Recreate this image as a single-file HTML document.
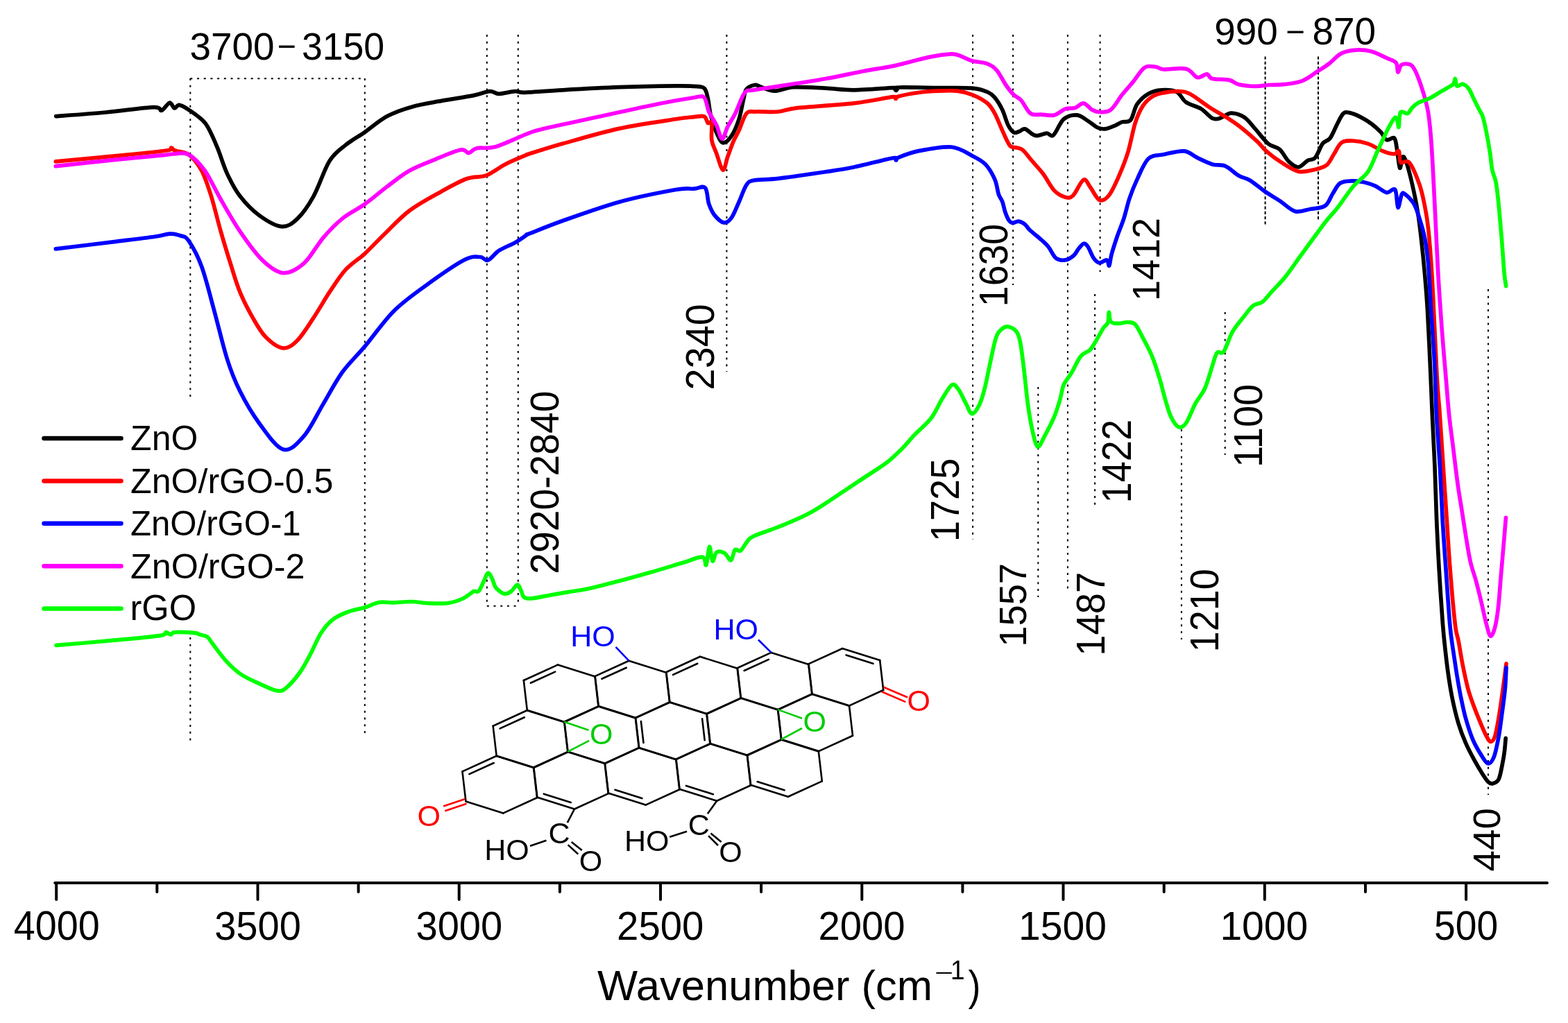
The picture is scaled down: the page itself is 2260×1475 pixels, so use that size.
<!DOCTYPE html><html><head><meta charset="utf-8"><style>html,body{margin:0;padding:0;background:#fff;}svg{display:block;}text{font-family:'Liberation Sans', Arial, sans-serif;}</style></head><body>
<svg width="2260" height="1475" viewBox="0 0 2260 1475">
<rect width="2260" height="1475" fill="#fff"/>
<line x1="274.3" y1="113" x2="274.3" y2="574" stroke="#000" stroke-width="2" stroke-dasharray="3 6.7" fill="none"/>
<line x1="274.3" y1="919" x2="274.3" y2="1068" stroke="#000" stroke-width="2" stroke-dasharray="3 6.7" fill="none"/>
<line x1="525.8" y1="113" x2="525.8" y2="1059" stroke="#000" stroke-width="2" stroke-dasharray="3 6.7" fill="none"/>
<line x1="701.8" y1="50" x2="701.8" y2="874" stroke="#000" stroke-width="2" stroke-dasharray="3 6.7" fill="none"/>
<line x1="746.8" y1="50" x2="746.8" y2="874" stroke="#000" stroke-width="2" stroke-dasharray="3 6.7" fill="none"/>
<line x1="1047.4" y1="50" x2="1047.4" y2="536" stroke="#000" stroke-width="2" stroke-dasharray="3 6.7" fill="none"/>
<line x1="1402.1" y1="50" x2="1402.1" y2="778" stroke="#000" stroke-width="2" stroke-dasharray="3 6.7" fill="none"/>
<line x1="1460.1" y1="50" x2="1460.1" y2="411" stroke="#000" stroke-width="2" stroke-dasharray="3 6.7" fill="none"/>
<line x1="1496.3" y1="558" x2="1496.3" y2="861" stroke="#000" stroke-width="2" stroke-dasharray="3 6.7" fill="none"/>
<line x1="1538.9" y1="50" x2="1538.9" y2="855" stroke="#000" stroke-width="2" stroke-dasharray="3 6.7" fill="none"/>
<line x1="1585.6" y1="50" x2="1585.6" y2="392" stroke="#000" stroke-width="2" stroke-dasharray="3 6.7" fill="none"/>
<line x1="1578.1" y1="424" x2="1578.1" y2="729" stroke="#000" stroke-width="2" stroke-dasharray="3 6.7" fill="none"/>
<line x1="1702.9" y1="619" x2="1702.9" y2="922" stroke="#000" stroke-width="2" stroke-dasharray="3 6.7" fill="none"/>
<line x1="1765.7" y1="450" x2="1765.7" y2="656" stroke="#000" stroke-width="2" stroke-dasharray="3 6.7" fill="none"/>
<line x1="2145.0" y1="417" x2="2145.0" y2="1146" stroke="#000" stroke-width="2" stroke-dasharray="3 6.7" fill="none"/>
<line x1="274.3" y1="113.2" x2="525.8" y2="113.2" stroke="#000" stroke-width="2" stroke-dasharray="3 6.7" fill="none"/>
<line x1="701.8" y1="873.8" x2="746.8" y2="873.8" stroke="#000" stroke-width="2" stroke-dasharray="3 6.7" fill="none"/>
<line x1="1823.6" y1="81.6" x2="1823.6" y2="324" stroke="#000" stroke-width="2" stroke-dasharray="4.2 3" fill="none"/>
<line x1="1900.0" y1="81.6" x2="1900.0" y2="318" stroke="#000" stroke-width="2" stroke-dasharray="4.2 3" fill="none"/>
<path d="M80.8,167.6 C92.7,166.7 128.8,164.2 152.2,162.0 C175.6,159.8 207.9,155.0 221.4,154.6 C234.9,154.2 229.1,160.4 232.9,159.3 C236.7,158.2 241.3,148.8 244.4,148.2 C247.5,147.6 249.1,155.5 251.4,156.0 C253.7,156.5 254.9,151.0 258.3,151.4 C261.8,151.8 266.7,154.8 272.1,158.3 C277.5,161.8 286.0,168.0 290.6,172.2 C295.2,176.4 296.0,176.8 299.8,183.7 C303.6,190.6 309.0,202.5 313.6,213.7 C318.2,224.8 322.1,239.1 327.5,250.6 C332.9,262.1 338.2,272.8 345.9,282.8 C353.6,292.8 363.6,303.2 373.6,310.5 C383.6,317.8 396.6,325.8 405.8,326.6 C415.0,327.4 421.2,322.4 428.9,315.1 C436.6,307.8 444.3,296.6 452.0,282.8 C459.7,269.0 467.3,244.4 475.0,232.1 C482.7,219.8 489.7,216.0 498.1,209.1 C506.6,202.2 515.7,197.5 525.7,190.6 C535.7,183.7 546.5,173.8 558.0,167.6 C569.5,161.4 581.8,157.4 594.9,153.7 C608.0,150.0 621.8,148.1 636.4,145.4 C651.0,142.7 671.0,139.9 682.5,137.6 C694.0,135.3 699.5,132.0 705.6,131.6 C711.8,131.2 713.2,135.3 719.4,135.3 C725.5,135.3 736.2,131.9 742.5,131.6 C748.8,131.3 745.4,133.6 756.9,133.3 C768.4,133.0 788.6,131.1 811.2,129.8 C833.8,128.5 865.4,126.7 892.5,125.7 C919.6,124.7 955.9,124.1 973.8,123.9 C991.7,123.7 993.1,123.9 1000.0,124.4 C1006.9,124.9 1011.5,124.2 1014.9,127.1 C1018.3,130.0 1018.7,135.4 1020.3,142.0 C1021.9,148.6 1022.4,158.3 1024.4,166.4 C1026.4,174.5 1029.6,184.2 1032.5,190.8 C1035.4,197.4 1038.4,204.8 1042.0,205.7 C1045.6,206.6 1050.4,201.8 1054.2,196.2 C1058.0,190.5 1062.1,180.8 1065.1,171.8 C1068.0,162.8 1070.1,149.2 1071.9,142.0 C1073.7,134.8 1073.2,131.8 1075.9,128.5 C1078.6,125.2 1084.5,123.0 1088.1,122.5 C1091.7,122.0 1092.8,124.2 1097.6,125.7 C1102.3,127.2 1108.9,131.2 1116.6,131.2 C1124.3,131.2 1131.5,126.4 1143.7,125.7 C1155.9,125.0 1175.3,126.4 1189.8,127.1 C1204.3,127.8 1214.5,129.9 1230.5,129.8 C1246.5,129.7 1276.2,127.0 1286.0,126.6 C1295.8,126.2 1288.1,126.8 1289.0,127.5 C1289.9,128.2 1290.7,130.5 1291.5,130.5 C1292.3,130.5 1293.1,128.2 1294.0,127.5 C1294.9,126.8 1287.2,126.2 1297.0,126.0 C1306.8,125.8 1335.1,126.4 1352.5,126.6 C1369.9,126.8 1389.5,126.1 1401.3,127.1 C1413.0,128.1 1417.6,130.2 1423.0,132.5 C1428.4,134.8 1430.2,136.4 1433.8,140.7 C1437.4,145.0 1441.5,151.8 1444.7,158.3 C1447.9,164.9 1450.1,174.6 1452.8,180.0 C1455.5,185.4 1458.3,189.2 1461.0,190.8 C1463.7,192.4 1466.4,190.3 1469.1,189.5 C1471.8,188.7 1474.0,185.2 1477.2,185.9 C1480.4,186.6 1485.1,191.9 1488.1,193.5 C1491.1,195.1 1491.8,195.9 1495.3,195.7 C1498.8,195.5 1505.0,192.3 1508.8,192.2 C1512.6,192.1 1514.2,198.3 1518.3,194.9 C1522.4,191.5 1527.5,176.6 1533.2,171.8 C1538.9,167.0 1546.3,165.4 1552.2,165.9 C1558.1,166.4 1563.5,171.6 1568.5,174.6 C1573.5,177.6 1577.9,182.1 1582.0,184.0 C1586.1,185.9 1588.8,186.3 1592.9,185.9 C1597.0,185.5 1602.3,183.0 1606.4,181.3 C1610.5,179.6 1613.5,177.2 1617.3,175.9 C1621.1,174.6 1625.9,177.5 1629.5,173.2 C1633.1,168.9 1634.7,156.5 1639.0,150.2 C1643.3,143.9 1649.3,138.6 1655.2,135.2 C1661.1,131.8 1667.4,130.2 1674.2,129.8 C1681.0,129.4 1690.0,129.6 1695.9,132.5 C1701.8,135.4 1703.6,143.3 1709.5,147.4 C1715.4,151.5 1724.8,153.1 1731.1,156.9 C1737.4,160.8 1742.9,168.2 1747.4,170.5 C1751.9,172.8 1753.8,171.7 1758.3,170.5 C1762.8,169.3 1768.6,163.4 1774.5,163.2 C1780.4,163.0 1787.8,165.4 1793.5,169.1 C1799.2,172.8 1803.1,179.1 1808.8,185.4 C1814.5,191.7 1821.9,202.1 1827.8,207.1 C1833.7,212.1 1839.1,210.9 1844.1,215.2 C1849.1,219.5 1853.1,228.6 1857.6,232.9 C1862.1,237.2 1866.7,241.2 1871.2,241.0 C1875.7,240.8 1880.6,233.8 1884.7,231.5 C1888.8,229.2 1892.0,231.5 1895.6,227.4 C1899.2,223.3 1902.8,211.8 1906.4,207.1 C1910.0,202.4 1913.7,204.0 1917.3,199.0 C1920.9,194.0 1924.9,183.2 1928.1,177.3 C1931.2,171.4 1933.5,166.2 1936.2,163.7 C1938.9,161.2 1940.3,161.6 1944.4,162.4 C1948.5,163.2 1955.3,165.9 1960.7,168.6 C1966.1,171.3 1971.9,174.9 1976.9,178.6 C1981.9,182.3 1986.9,187.0 1990.5,190.8 C1994.1,194.7 1995.4,200.3 1998.6,201.7 C2001.8,203.1 2007.0,196.8 2009.5,199.0 C2012.0,201.2 2012.2,208.0 2013.5,215.2 C2014.8,222.4 2016.2,240.5 2017.6,242.3 C2019.0,244.1 2020.1,227.4 2021.7,226.1 C2023.3,224.8 2024.8,227.6 2027.1,234.2 C2029.4,240.8 2032.8,254.1 2035.5,265.8 C2038.2,277.5 2041.1,291.5 2043.2,304.4 C2045.3,317.3 2046.6,328.0 2048.3,343.0 C2050.0,358.0 2052.0,377.4 2053.5,394.6 C2055.0,411.8 2056.1,424.6 2057.4,446.1 C2058.7,467.6 2060.0,497.8 2061.2,523.4 C2062.4,549.0 2063.3,575.0 2064.4,600.0 C2065.5,625.0 2067.0,648.8 2068.0,673.2 C2069.0,697.6 2069.5,721.9 2070.5,746.3 C2071.5,770.7 2072.6,793.9 2074.1,819.5 C2075.6,845.1 2077.9,879.5 2079.5,900.0 C2081.1,920.5 2082.3,929.7 2083.7,942.4 C2085.1,955.1 2086.3,965.0 2088.0,976.3 C2089.7,987.6 2091.5,998.9 2093.9,1010.2 C2096.3,1021.5 2099.3,1033.9 2102.4,1044.1 C2105.5,1054.3 2108.8,1062.7 2112.5,1071.2 C2116.2,1079.7 2120.4,1087.6 2124.4,1094.9 C2128.4,1102.2 2132.9,1109.9 2136.3,1115.3 C2139.7,1120.7 2142.2,1124.7 2144.7,1127.1 C2147.2,1129.5 2148.9,1130.3 2151.5,1129.7 C2154.1,1129.1 2157.7,1128.1 2160.0,1123.7 C2162.3,1119.3 2163.7,1110.2 2165.1,1103.4 C2166.5,1096.6 2167.7,1089.6 2168.5,1083.1 C2169.3,1076.6 2169.9,1067.5 2170.2,1064.4" fill="none" stroke="#000000" stroke-width="5.7" stroke-linejoin="round" stroke-linecap="round"/>
<path d="M80.3,232.9 C95.0,231.5 141.9,227.3 168.5,224.7 C195.1,222.0 226.9,218.9 240.0,217.0 C253.1,215.1 245.1,213.0 247.1,213.0 C249.1,213.0 247.8,215.3 252.0,217.0 C256.2,218.7 265.7,218.1 272.1,222.9 C278.5,227.7 285.2,236.0 290.6,246.0 C296.0,256.0 299.8,268.2 304.4,282.8 C309.0,297.4 313.6,317.5 318.2,333.6 C322.8,349.8 327.5,365.1 332.1,379.7 C336.7,394.3 340.5,408.1 345.9,421.2 C351.3,434.3 358.1,447.4 364.3,458.1 C370.5,468.9 375.5,478.4 382.8,485.7 C390.1,493.0 400.4,501.1 408.1,501.9 C415.8,502.7 421.6,497.7 428.9,490.4 C436.2,483.1 444.3,469.6 452.0,458.1 C459.7,446.6 467.3,432.7 475.0,421.2 C482.7,409.7 489.7,398.1 498.1,388.9 C506.6,379.7 516.5,374.2 525.7,365.8 C534.9,357.4 542.6,348.6 553.4,338.2 C564.2,327.8 576.5,314.0 590.3,303.6 C604.1,293.2 622.6,283.6 636.4,275.9 C650.2,268.2 662.5,261.3 673.3,257.5 C684.1,253.7 691.8,256.4 701.0,252.9 C710.2,249.4 718.8,241.7 728.6,236.7 C738.4,231.7 754.4,225.3 760.0,222.9 C765.6,220.5 753.8,224.6 762.3,222.0 C770.8,219.4 789.5,213.2 811.2,207.1 C832.9,201.0 865.4,191.3 892.5,185.4 C919.6,179.5 955.9,174.6 973.8,171.8 C991.7,169.0 993.1,169.3 1000.0,168.6 C1006.9,167.9 1011.5,166.4 1014.9,167.8 C1018.3,169.2 1018.5,175.7 1020.3,177.3 C1022.1,178.9 1024.9,173.2 1025.8,177.3 C1026.7,181.4 1024.7,194.5 1025.8,201.7 C1026.9,208.9 1029.8,213.5 1032.5,220.7 C1035.2,227.9 1039.3,244.1 1042.0,245.0 C1044.7,245.9 1046.3,232.9 1048.8,226.1 C1051.3,219.3 1054.2,210.7 1056.9,204.4 C1059.6,198.1 1061.9,194.9 1065.1,188.1 C1068.3,181.3 1071.8,168.2 1075.9,163.7 C1080.0,159.2 1081.8,161.4 1089.5,161.0 C1097.2,160.6 1112.1,161.9 1122.0,161.0 C1131.9,160.1 1131.0,157.6 1149.1,155.6 C1167.2,153.6 1207.5,151.5 1230.5,148.8 C1253.5,146.2 1276.9,140.8 1287.0,139.7 C1297.1,138.6 1289.7,142.6 1291.0,142.5 C1292.3,142.4 1289.3,140.5 1295.0,139.0 C1300.7,137.5 1315.8,134.6 1325.4,133.3 C1335.0,132.0 1343.5,131.5 1352.5,131.2 C1361.5,130.8 1371.5,130.3 1379.6,131.2 C1387.7,132.1 1394.1,133.7 1401.3,136.6 C1408.5,139.5 1417.6,144.3 1423.0,148.8 C1428.4,153.3 1430.2,157.1 1433.8,163.7 C1437.4,170.2 1441.1,180.4 1444.7,188.1 C1448.3,195.8 1451.9,205.6 1455.5,209.8 C1459.1,214.0 1463.2,212.0 1466.4,213.1 C1469.6,214.2 1471.0,213.5 1474.5,216.6 C1478.0,219.7 1482.3,225.8 1487.1,231.5 C1491.9,237.2 1498.0,243.3 1503.4,250.5 C1508.8,257.7 1514.3,269.2 1519.7,274.9 C1525.1,280.5 1531.4,283.3 1535.9,284.4 C1540.4,285.5 1542.5,285.9 1546.8,281.7 C1551.1,277.5 1557.6,261.2 1561.7,259.2 C1565.8,257.2 1567.4,264.6 1571.2,269.5 C1575.0,274.4 1580.2,286.4 1584.7,288.4 C1589.2,290.4 1593.8,287.1 1598.3,281.7 C1602.8,276.3 1607.3,266.1 1611.8,255.9 C1616.3,245.7 1621.3,233.8 1625.4,220.7 C1629.5,207.6 1632.6,188.6 1636.2,177.3 C1639.8,166.0 1643.0,159.2 1647.1,152.9 C1651.2,146.6 1655.7,142.5 1660.7,139.3 C1665.7,136.1 1670.6,135.2 1676.9,133.9 C1683.2,132.6 1692.3,131.5 1698.6,131.7 C1704.9,131.9 1707.2,131.2 1714.9,135.2 C1722.6,139.2 1735.2,149.5 1744.7,155.6 C1754.2,161.7 1764.1,166.8 1771.8,171.8 C1779.5,176.8 1784.0,180.0 1790.8,185.4 C1797.6,190.8 1806.8,199.0 1812.5,204.4 C1818.2,209.8 1819.4,212.9 1825.1,217.9 C1830.8,222.9 1839.1,229.3 1846.8,234.2 C1854.5,239.1 1863.5,245.4 1871.2,247.2 C1878.9,249.0 1886.1,246.5 1892.9,245.0 C1899.7,243.5 1906.8,242.1 1911.8,238.3 C1916.8,234.5 1919.1,227.4 1922.7,222.0 C1926.3,216.6 1929.0,208.9 1933.5,205.7 C1938.0,202.5 1943.5,202.8 1949.8,203.0 C1956.1,203.2 1964.3,204.6 1971.5,207.1 C1978.7,209.6 1986.9,215.4 1993.2,217.9 C1999.5,220.4 2005.7,222.0 2009.5,222.0 C2013.3,222.0 2014.6,215.9 2016.2,217.9 C2017.8,219.9 2016.5,231.5 2019.0,234.2 C2021.5,236.9 2026.6,228.9 2031.1,234.2 C2035.6,239.5 2042.1,255.4 2045.8,265.8 C2049.5,276.2 2051.3,286.0 2053.5,296.7 C2055.7,307.4 2057.0,313.9 2058.7,330.2 C2060.4,346.5 2062.3,371.0 2063.8,394.6 C2065.3,418.2 2066.4,446.1 2067.7,471.9 C2069.0,497.7 2070.2,527.9 2071.5,549.2 C2072.8,570.6 2074.0,579.3 2075.4,600.0 C2076.8,620.7 2078.6,648.8 2080.2,673.2 C2081.8,697.6 2083.5,721.9 2085.1,746.3 C2086.7,770.7 2088.0,793.9 2090.0,819.5 C2092.0,845.1 2095.2,882.4 2097.3,900.0 C2099.4,917.6 2100.6,915.5 2102.4,925.4 C2104.2,935.3 2106.1,948.0 2108.3,959.3 C2110.6,970.6 2113.2,983.3 2115.9,993.2 C2118.6,1003.1 2121.3,1010.1 2124.4,1018.6 C2127.5,1027.1 2131.5,1036.8 2134.6,1044.1 C2137.7,1051.4 2140.7,1058.5 2143.1,1062.7 C2145.5,1066.9 2147.0,1069.8 2149.0,1069.5 C2151.0,1069.2 2153.1,1066.7 2154.9,1061.0 C2156.7,1055.3 2158.3,1045.5 2160.0,1035.6 C2161.7,1025.7 2163.7,1011.6 2165.1,1001.7 C2166.5,991.8 2167.5,983.8 2168.5,976.3 C2169.5,968.8 2170.6,960.0 2171.0,956.8" fill="none" stroke="#ff0000" stroke-width="5.7" stroke-linejoin="round" stroke-linecap="round"/>
<path d="M80.3,358.9 C95.0,357.1 144.8,351.0 168.5,348.1 C192.2,345.2 210.0,343.1 222.7,341.3 C235.3,339.5 238.1,337.4 244.4,337.2 C250.7,337.0 256.1,338.3 260.7,340.0 C265.3,341.7 267.1,340.0 272.1,347.4 C277.1,354.8 284.5,367.4 290.6,384.3 C296.8,401.2 302.9,426.6 309.0,448.9 C315.1,471.2 321.4,498.8 327.5,518.0 C333.6,537.2 338.2,548.7 345.9,564.1 C353.6,579.5 363.2,596.2 373.6,610.2 C384.0,624.2 397.4,644.9 408.1,648.0 C418.9,651.1 428.5,639.6 438.1,628.7 C447.7,617.8 456.6,598.0 465.8,582.6 C475.0,567.2 483.5,550.3 493.5,536.5 C503.5,522.7 513.4,514.2 525.7,499.6 C538.0,485.0 552.6,463.5 567.2,448.9 C581.8,434.3 596.5,424.3 613.4,412.0 C630.3,399.7 655.6,382.0 668.7,375.1 C681.8,368.2 686.0,370.5 691.8,370.5 C697.6,370.5 698.7,376.7 703.3,375.1 C707.9,373.6 712.9,365.4 719.4,361.2 C725.9,357.0 735.7,353.5 742.5,349.7 C749.3,345.9 756.7,340.3 760.0,338.2 C763.3,336.1 753.8,340.5 762.3,337.2 C770.8,333.9 789.5,326.0 811.2,318.3 C832.9,310.6 865.4,298.7 892.5,291.2 C919.6,283.7 955.9,276.7 973.8,273.5 C991.7,270.3 992.9,272.6 1000.0,272.2 C1007.1,271.8 1012.7,267.2 1016.3,270.8 C1019.9,274.4 1019.5,287.3 1021.7,293.9 C1024.0,300.4 1026.2,305.6 1029.8,310.1 C1033.4,314.6 1039.3,320.3 1043.4,321.0 C1047.5,321.7 1050.6,319.2 1054.2,314.2 C1057.8,309.2 1061.5,299.1 1065.1,291.2 C1068.7,283.3 1072.3,271.9 1075.9,266.7 C1079.5,261.5 1079.1,261.6 1086.8,260.0 C1094.5,258.4 1104.8,259.3 1122.0,257.3 C1139.2,255.3 1171.7,250.5 1189.8,247.8 C1207.9,245.1 1214.2,244.3 1230.5,241.0 C1246.8,237.7 1277.3,229.5 1287.5,227.8 C1297.7,226.1 1290.2,231.2 1291.5,231.0 C1292.8,230.8 1289.8,229.1 1295.5,226.8 C1301.2,224.5 1312.7,219.9 1325.4,217.4 C1338.1,214.9 1358.8,210.8 1371.5,212.0 C1384.2,213.2 1393.2,220.5 1401.3,224.7 C1409.4,228.8 1414.9,231.2 1420.3,236.9 C1425.7,242.6 1430.6,251.4 1433.8,258.6 C1437.0,265.8 1437.5,274.6 1439.3,280.0 C1441.1,285.4 1443.2,286.6 1444.8,290.9 C1446.4,295.2 1447.2,301.3 1448.8,305.8 C1450.4,310.3 1452.5,315.4 1454.3,318.0 C1456.1,320.6 1457.5,321.2 1459.7,321.4 C1462.0,321.6 1464.9,318.8 1467.8,319.1 C1470.7,319.4 1474.6,321.3 1477.3,323.4 C1480.0,325.5 1480.0,327.6 1484.1,331.5 C1488.2,335.4 1497.2,342.4 1501.7,346.5 C1506.2,350.6 1507.8,351.7 1511.2,356.0 C1514.6,360.3 1518.0,369.1 1522.1,372.2 C1526.2,375.3 1531.3,375.6 1535.6,374.9 C1539.9,374.2 1544.6,370.9 1547.8,368.2 C1551.0,365.5 1552.2,361.5 1554.6,358.7 C1557.0,355.9 1559.8,351.6 1562.1,351.2 C1564.4,350.8 1565.8,352.5 1568.2,356.0 C1570.6,359.5 1573.6,368.4 1576.3,372.2 C1579.0,376.0 1581.3,378.6 1584.5,379.0 C1587.7,379.4 1592.9,374.2 1595.3,374.9 C1597.7,375.6 1597.6,384.5 1598.7,383.1 C1599.8,381.8 1600.2,373.8 1602.1,366.8 C1604.0,359.8 1607.3,349.6 1610.2,341.0 C1613.1,332.4 1616.7,324.5 1619.7,315.3 C1622.7,306.1 1624.9,295.1 1628.1,285.7 C1631.3,276.2 1634.5,268.1 1639.0,258.6 C1643.5,249.1 1648.9,234.8 1655.2,228.8 C1661.5,222.8 1668.3,224.6 1676.9,222.8 C1685.5,221.0 1698.7,217.1 1706.8,217.9 C1714.9,218.7 1718.9,224.2 1725.7,227.4 C1732.5,230.6 1740.6,234.9 1747.4,236.9 C1754.2,238.9 1760.1,236.9 1766.4,239.6 C1772.7,242.3 1779.5,249.8 1785.4,253.2 C1791.3,256.6 1795.3,256.2 1801.6,260.0 C1807.9,263.8 1816.1,271.2 1823.3,276.2 C1830.5,281.2 1837.8,285.1 1845.0,289.8 C1852.2,294.6 1859.5,302.8 1866.7,304.7 C1873.9,306.6 1881.2,302.9 1888.4,301.5 C1895.6,300.1 1904.7,300.4 1910.1,296.6 C1915.5,292.9 1917.4,284.4 1921.0,279.0 C1924.6,273.6 1927.0,267.0 1931.8,264.0 C1936.6,261.0 1944.1,261.0 1949.8,260.8 C1955.5,260.6 1960.7,261.5 1966.1,262.7 C1971.5,263.9 1976.9,265.6 1982.3,268.1 C1987.7,270.6 1993.8,276.7 1998.6,277.6 C2003.3,278.5 2008.1,269.9 2010.8,273.5 C2013.5,277.1 2013.3,298.2 2014.9,299.3 C2016.5,300.4 2018.6,283.5 2020.3,280.3 C2022.0,277.1 2022.2,277.7 2025.2,280.0 C2028.2,282.3 2034.6,288.3 2038.0,294.1 C2041.4,299.9 2043.2,306.6 2045.8,314.7 C2048.4,322.8 2051.3,331.8 2053.5,343.0 C2055.7,354.2 2057.2,364.5 2058.7,381.7 C2060.2,398.9 2061.0,422.5 2062.5,446.1 C2064.0,469.7 2066.4,497.8 2067.7,523.4 C2069.0,549.0 2069.2,575.0 2070.5,600.0 C2071.8,625.0 2074.0,648.8 2075.4,673.2 C2076.8,697.6 2077.6,721.9 2079.0,746.3 C2080.4,770.7 2082.1,793.9 2083.9,819.5 C2085.7,845.1 2088.0,880.9 2089.7,900.0 C2091.4,919.1 2092.3,922.6 2093.9,933.9 C2095.5,945.2 2097.2,956.5 2099.0,967.8 C2100.8,979.1 2102.7,990.4 2104.9,1001.7 C2107.2,1013.0 2109.5,1024.9 2112.5,1035.6 C2115.5,1046.3 2119.0,1057.3 2122.7,1066.1 C2126.4,1074.8 2130.9,1082.3 2134.6,1088.1 C2138.3,1093.9 2141.6,1100.2 2144.7,1100.8 C2147.8,1101.4 2150.6,1097.8 2153.2,1091.5 C2155.8,1085.2 2158.0,1073.4 2160.0,1062.7 C2162.0,1052.0 2163.5,1038.7 2165.1,1027.1 C2166.7,1015.5 2168.3,1003.9 2169.3,993.2 C2170.3,982.5 2170.7,967.8 2171.0,962.7" fill="none" stroke="#0000ff" stroke-width="5.7" stroke-linejoin="round" stroke-linecap="round"/>
<path d="M80.3,239.6 C95.0,238.0 143.0,232.7 168.5,230.1 C194.0,227.5 219.9,225.2 233.5,223.9 C247.1,222.6 243.4,222.2 249.8,222.0 C256.2,221.8 264.5,218.9 272.1,222.9 C279.7,226.9 287.5,235.2 295.2,246.0 C302.9,256.8 309.8,272.9 318.2,287.5 C326.6,302.1 335.9,319.0 345.9,333.6 C355.9,348.2 367.8,365.1 378.2,375.1 C388.6,385.1 398.1,392.7 408.1,393.5 C418.1,394.3 428.5,388.1 438.1,379.7 C447.7,371.2 456.6,353.6 465.8,342.8 C475.0,332.0 483.5,323.2 493.5,315.1 C503.5,307.0 515.0,302.1 525.7,294.4 C536.5,286.7 547.2,277.1 558.0,269.0 C568.8,260.9 578.8,252.5 590.3,246.0 C601.8,239.5 614.9,234.8 627.2,229.8 C639.5,224.8 656.0,217.5 664.1,216.0 C672.2,214.5 671.8,221.0 675.6,220.6 C679.4,220.2 680.6,215.2 687.1,213.7 C693.6,212.2 702.6,214.9 714.8,211.4 C726.9,207.9 748.5,197.2 760.0,192.9 C771.5,188.6 766.4,189.6 784.0,185.4 C801.6,181.2 838.3,173.7 865.4,167.8 C892.5,161.9 924.3,154.7 946.7,150.2 C969.1,145.7 988.6,142.3 1000.0,140.7 C1011.4,139.1 1011.3,137.3 1014.9,140.7 C1018.5,144.1 1018.8,154.4 1021.7,161.0 C1024.6,167.6 1029.3,173.4 1032.5,180.0 C1035.7,186.6 1038.0,199.9 1040.7,200.3 C1043.4,200.8 1045.6,188.8 1048.8,182.7 C1052.0,176.6 1055.6,171.8 1059.7,163.7 C1063.8,155.6 1068.7,139.6 1073.2,133.9 C1077.7,128.2 1078.7,131.4 1086.8,129.8 C1094.9,128.2 1104.8,127.1 1122.0,124.4 C1139.2,121.7 1169.5,117.1 1189.8,113.5 C1210.1,109.9 1227.3,105.9 1244.0,102.7 C1260.7,99.5 1274.3,98.0 1290.1,94.6 C1305.9,91.2 1325.3,85.2 1338.9,82.4 C1352.5,79.6 1363.8,78.0 1371.5,77.8 C1379.2,77.6 1380.0,79.3 1385.0,81.0 C1390.0,82.7 1395.0,86.0 1401.3,87.8 C1407.6,89.6 1417.1,89.7 1423.0,91.9 C1428.9,94.2 1432.1,96.1 1436.6,101.3 C1441.1,106.5 1446.0,117.1 1450.1,123.0 C1454.2,128.9 1457.4,133.0 1461.0,136.6 C1464.6,140.2 1467.7,140.2 1471.8,144.7 C1475.9,149.2 1480.6,160.3 1485.4,163.7 C1490.2,167.1 1495.0,164.7 1500.7,165.1 C1506.4,165.5 1513.8,167.3 1519.7,165.9 C1525.6,164.5 1530.9,158.6 1535.9,156.9 C1540.9,155.2 1545.2,156.9 1549.5,155.6 C1553.8,154.2 1557.6,148.4 1561.7,148.8 C1565.8,149.2 1570.1,156.2 1573.9,158.3 C1577.7,160.4 1580.2,161.5 1584.7,161.5 C1589.2,161.5 1595.6,162.5 1601.0,158.3 C1606.4,154.2 1611.9,143.4 1617.3,136.6 C1622.7,129.8 1628.1,124.1 1633.5,117.6 C1638.9,111.0 1644.4,100.8 1649.8,97.3 C1655.2,93.8 1661.6,96.0 1666.1,96.5 C1670.6,97.0 1669.7,99.5 1676.9,100.0 C1684.1,100.5 1701.4,97.3 1709.5,99.2 C1717.6,101.1 1720.7,110.3 1725.7,111.6 C1730.7,112.9 1735.7,106.5 1739.3,106.8 C1742.9,107.1 1742.0,112.1 1747.4,113.5 C1752.8,114.9 1765.5,114.0 1771.8,115.4 C1778.1,116.8 1779.1,120.2 1785.4,121.7 C1791.7,123.2 1802.6,124.3 1809.8,124.4 C1817.0,124.5 1822.0,123.0 1828.8,122.5 C1835.6,122.0 1842.4,122.7 1850.5,121.7 C1858.6,120.7 1869.5,119.5 1877.6,116.3 C1885.7,113.1 1893.0,106.8 1899.3,102.7 C1905.6,98.6 1909.8,96.2 1915.5,91.9 C1921.2,87.6 1926.9,80.2 1933.5,76.9 C1940.1,73.6 1948.0,72.5 1955.2,72.1 C1962.4,71.6 1969.7,72.3 1976.9,74.2 C1984.1,76.1 1992.7,81.0 1998.6,83.7 C2004.5,86.4 2009.5,87.1 2012.2,90.5 C2014.9,93.9 2013.6,103.6 2014.9,104.1 C2016.2,104.5 2017.1,94.9 2020.3,93.2 C2023.5,91.5 2030.3,91.5 2033.9,93.8 C2037.5,96.1 2039.1,100.1 2042.0,106.8 C2044.9,113.5 2048.8,124.9 2051.5,133.9 C2054.2,142.9 2056.5,150.6 2058.3,161.0 C2060.1,171.4 2061.2,183.0 2062.3,196.2 C2063.4,209.4 2064.0,219.8 2065.1,240.0 C2066.2,260.2 2067.7,291.5 2069.0,317.3 C2070.3,343.1 2071.3,368.8 2072.8,394.6 C2074.3,420.4 2076.1,446.1 2078.0,471.9 C2079.9,497.7 2082.6,527.9 2084.4,549.2 C2086.2,570.6 2087.1,583.4 2088.8,600.0 C2090.6,616.6 2092.9,632.5 2094.9,648.8 C2096.9,665.1 2099.0,683.0 2101.0,697.6 C2103.0,712.2 2105.1,723.6 2107.1,736.6 C2109.1,749.6 2111.2,763.4 2113.2,775.6 C2115.2,787.8 2116.9,799.2 2119.3,809.8 C2121.7,820.4 2125.2,829.2 2127.8,839.0 C2130.4,848.8 2132.7,858.1 2135.1,868.3 C2137.5,878.5 2140.2,891.9 2142.4,900.0 C2144.6,908.1 2146.3,916.3 2148.3,917.1 C2150.3,917.9 2152.7,911.8 2154.6,904.9 C2156.5,898.0 2158.1,887.8 2159.5,875.6 C2160.9,863.4 2162.0,845.9 2163.2,831.7 C2164.4,817.5 2165.6,804.4 2166.8,790.2 C2168.0,776.0 2169.9,753.6 2170.5,746.3" fill="none" stroke="#ff00ff" stroke-width="5.7" stroke-linejoin="round" stroke-linecap="round"/>
<path d="M81.0,930.4 C89.7,929.7 116.2,927.5 133.0,926.0 C149.8,924.5 165.1,923.2 181.7,921.6 C198.3,920.0 223.0,917.8 232.6,916.1 C242.2,914.4 237.0,911.8 239.2,911.6 C241.4,911.4 243.6,915.0 245.8,915.0 C248.0,915.0 246.6,912.0 252.5,911.6 C258.4,911.2 275.3,912.1 281.2,912.7 C287.1,913.3 284.9,914.1 287.9,915.0 C290.8,915.9 295.9,916.3 298.9,918.3 C301.8,920.3 301.2,921.4 305.6,927.1 C310.0,932.8 318.5,945.0 325.5,952.6 C332.5,960.2 339.5,967.0 347.6,972.5 C355.7,978.0 365.7,981.9 374.2,985.8 C382.7,989.7 392.2,994.6 398.5,995.7 C404.8,996.8 406.3,996.6 411.8,992.4 C417.3,988.2 425.8,978.4 431.7,970.3 C437.6,962.2 442.0,953.3 447.2,943.7 C452.4,934.1 457.2,921.2 462.7,912.7 C468.2,904.2 473.8,897.9 480.4,892.8 C487.0,887.6 495.1,884.6 502.5,881.8 C509.9,879.0 517.2,878.4 524.6,876.2 C532.0,874.0 539.7,869.7 546.7,868.5 C553.7,867.3 558.8,869.1 566.5,868.9 C574.2,868.7 584.2,867.3 593.1,867.5 C602.0,867.7 610.8,869.6 619.6,869.9 C628.5,870.2 638.5,870.6 646.2,869.5 C654.0,868.4 660.6,865.9 666.1,863.5 C671.6,861.1 676.5,856.8 679.4,854.9 C682.3,853.0 681.6,852.7 683.4,852.3 C685.2,851.9 687.8,854.4 690.0,852.3 C692.2,850.2 694.6,843.7 696.6,839.6 C698.6,835.5 700.5,829.8 702.0,827.7 C703.5,825.6 704.0,825.7 705.3,827.0 C706.6,828.3 708.5,832.5 709.9,835.7 C711.3,838.9 712.3,843.6 713.9,846.3 C715.5,848.9 717.0,850.0 719.2,851.6 C721.4,853.2 724.3,856.0 727.2,856.2 C730.1,856.4 733.4,855.1 736.5,852.9 C739.6,850.7 743.4,843.2 745.8,843.0 C748.2,842.8 749.5,848.6 751.1,851.6 C752.7,854.6 752.7,859.0 755.1,860.9 C757.5,862.8 759.5,863.3 765.7,862.9 C771.9,862.5 783.4,859.8 792.2,858.2 C801.1,856.7 809.8,855.1 818.8,853.6 C827.8,852.1 833.9,851.9 846.1,849.3 C858.3,846.7 876.8,841.8 892.2,837.8 C907.6,833.8 922.9,829.5 938.3,825.1 C953.7,820.7 972.1,814.9 984.4,811.3 C996.7,807.6 1006.5,802.6 1012.1,803.2 C1017.7,803.8 1016.1,817.2 1017.8,814.7 C1019.5,812.2 1021.0,789.2 1022.5,788.2 C1024.0,787.2 1025.4,807.6 1027.1,809.0 C1028.8,810.4 1029.9,798.2 1032.8,796.3 C1035.7,794.4 1040.8,795.5 1044.3,797.4 C1047.8,799.3 1051.1,808.6 1053.6,807.8 C1056.1,807.0 1057.0,795.1 1059.3,792.8 C1061.6,790.5 1064.5,795.9 1067.4,794.0 C1070.3,792.1 1073.5,784.8 1076.6,781.3 C1079.7,777.8 1078.1,776.9 1085.8,773.2 C1093.5,769.6 1108.9,765.1 1122.7,759.4 C1136.5,753.6 1152.8,747.5 1168.8,738.7 C1184.8,729.9 1205.4,715.2 1218.6,706.6 C1231.8,698.0 1238.0,693.6 1248.0,687.0 C1258.0,680.4 1269.6,673.4 1278.3,666.7 C1287.0,660.0 1293.3,653.6 1300.0,647.0 C1306.7,640.4 1311.2,634.2 1318.2,626.9 C1325.2,619.6 1335.4,611.6 1342.0,603.0 C1348.6,594.4 1353.0,583.1 1358.0,575.1 C1363.0,567.1 1368.0,557.4 1371.9,555.1 C1375.8,552.8 1377.9,556.9 1381.3,561.3 C1384.7,565.7 1388.9,575.8 1392.2,581.7 C1395.5,587.6 1397.7,596.2 1400.9,596.6 C1404.1,597.0 1408.1,590.5 1411.2,584.4 C1414.3,578.3 1416.6,570.4 1419.3,560.0 C1422.0,549.6 1424.7,534.2 1427.4,522.0 C1430.1,509.8 1432.9,494.7 1435.6,486.8 C1438.3,478.9 1440.8,477.2 1443.7,474.6 C1446.6,472.0 1449.6,470.3 1453.2,471.0 C1456.8,471.7 1462.5,474.6 1465.4,478.6 C1468.3,482.6 1469.0,485.4 1470.8,494.9 C1472.6,504.4 1474.4,520.7 1476.2,535.6 C1478.0,550.5 1479.7,570.0 1481.7,584.4 C1483.7,598.8 1486.1,612.4 1488.4,622.3 C1490.8,632.2 1492.8,643.1 1495.8,644.0 C1498.8,644.9 1502.1,635.0 1506.1,627.8 C1510.1,620.6 1516.0,609.3 1519.6,600.7 C1523.2,592.1 1525.5,583.9 1527.8,576.2 C1530.1,568.5 1530.5,560.9 1533.2,554.6 C1535.9,548.3 1539.9,545.1 1544.0,538.3 C1548.1,531.5 1553.1,519.5 1557.6,513.9 C1562.1,508.2 1567.5,508.0 1571.1,504.4 C1574.7,500.8 1576.1,497.4 1579.3,492.2 C1582.5,487.0 1587.2,477.7 1590.1,473.2 C1593.0,468.7 1595.5,468.9 1596.9,465.1 C1598.3,461.3 1597.6,450.4 1598.3,450.2 C1599.0,450.0 1598.8,461.0 1601.0,463.7 C1603.2,466.4 1607.7,466.3 1611.8,466.4 C1615.9,466.5 1621.3,464.3 1625.4,464.5 C1629.5,464.7 1632.6,464.1 1636.2,467.8 C1639.8,471.5 1643.0,479.1 1647.1,486.8 C1651.2,494.5 1656.5,504.0 1660.6,513.9 C1664.7,523.8 1668.3,536.0 1671.5,546.4 C1674.7,556.8 1676.9,567.2 1679.6,576.2 C1682.3,585.2 1684.5,594.1 1687.7,600.7 C1690.9,607.3 1695.0,614.0 1698.6,615.6 C1702.2,617.2 1705.3,615.8 1709.4,610.1 C1713.5,604.5 1718.5,590.1 1723.0,581.7 C1727.5,573.4 1732.5,569.0 1736.6,560.0 C1740.7,551.0 1744.5,536.0 1747.4,527.4 C1750.3,518.8 1751.5,511.9 1754.2,508.5 C1756.9,505.1 1760.0,512.1 1763.7,507.1 C1767.4,502.1 1771.5,487.0 1776.3,478.6 C1781.1,470.2 1787.5,463.2 1792.5,456.9 C1797.5,450.6 1801.6,444.3 1806.1,440.7 C1810.6,437.1 1815.2,438.6 1819.7,435.2 C1824.2,431.8 1827.8,426.2 1833.2,420.3 C1838.6,414.4 1845.4,408.0 1852.2,399.6 C1859.0,391.2 1866.7,379.7 1873.9,369.8 C1881.1,359.9 1889.3,348.6 1895.6,340.0 C1901.9,331.4 1906.4,325.1 1911.8,318.3 C1917.2,311.5 1921.8,307.4 1928.1,299.3 C1934.4,291.2 1942.6,278.1 1949.8,269.5 C1957.0,260.9 1965.7,256.1 1971.5,247.8 C1977.3,239.5 1980.8,227.9 1984.7,219.5 C1988.6,211.1 1992.0,203.6 1994.9,197.5 C1997.8,191.4 1999.7,187.2 2002.0,183.0 C2004.3,178.8 2006.8,174.2 2008.5,172.0 C2010.2,169.8 2010.9,168.8 2011.9,169.5 C2012.9,170.2 2013.8,173.8 2014.5,176.0 C2015.2,178.2 2015.4,185.3 2016.1,183.0 C2016.8,180.7 2016.5,165.1 2018.6,161.9 C2020.7,158.7 2026.0,164.7 2028.8,163.6 C2031.6,162.5 2033.0,157.6 2035.6,155.1 C2038.1,152.6 2039.9,150.6 2044.1,148.3 C2048.3,146.0 2055.3,144.3 2061.0,141.5 C2066.7,138.7 2073.2,134.2 2078.0,131.4 C2082.8,128.6 2087.0,126.3 2089.8,124.6 C2092.6,122.9 2093.7,122.8 2095.0,121.0 C2096.3,119.2 2096.7,113.1 2097.5,113.6 C2098.3,114.1 2098.2,122.7 2100.0,124.0 C2101.8,125.3 2105.7,120.5 2108.5,121.2 C2111.3,121.9 2114.5,124.6 2117.0,128.0 C2119.5,131.4 2121.2,136.4 2123.7,141.5 C2126.2,146.6 2129.9,154.0 2132.2,158.5 C2134.5,163.0 2135.6,163.2 2137.3,168.6 C2139.0,174.0 2140.7,182.2 2142.4,190.7 C2144.1,199.2 2146.1,210.5 2147.5,219.5 C2148.9,228.5 2149.4,237.8 2150.8,244.9 C2152.2,252.0 2154.5,254.8 2155.9,261.9 C2157.3,269.0 2157.9,273.8 2159.3,287.3 C2160.7,300.8 2162.8,325.1 2164.3,343.0 C2165.8,360.9 2167.1,383.0 2168.2,394.6 C2169.3,406.2 2170.3,409.6 2170.7,412.6" fill="none" stroke="#00ff00" stroke-width="5.7" stroke-linejoin="round" stroke-linecap="round"/>
<line x1="79.2" y1="1273" x2="2230" y2="1273" stroke="#000" stroke-width="4" stroke-linecap="round"/>
<line x1="81.2" y1="1273" x2="81.2" y2="1297" stroke="#000" stroke-width="4" stroke-linecap="round"/>
<line x1="226.3" y1="1273" x2="226.3" y2="1286" stroke="#000" stroke-width="4" stroke-linecap="round"/>
<line x1="371.5" y1="1273" x2="371.5" y2="1297" stroke="#000" stroke-width="4" stroke-linecap="round"/>
<line x1="516.6" y1="1273" x2="516.6" y2="1286" stroke="#000" stroke-width="4" stroke-linecap="round"/>
<line x1="661.7" y1="1273" x2="661.7" y2="1297" stroke="#000" stroke-width="4" stroke-linecap="round"/>
<line x1="806.9" y1="1273" x2="806.9" y2="1286" stroke="#000" stroke-width="4" stroke-linecap="round"/>
<line x1="952.0" y1="1273" x2="952.0" y2="1297" stroke="#000" stroke-width="4" stroke-linecap="round"/>
<line x1="1097.1" y1="1273" x2="1097.1" y2="1286" stroke="#000" stroke-width="4" stroke-linecap="round"/>
<line x1="1242.3" y1="1273" x2="1242.3" y2="1297" stroke="#000" stroke-width="4" stroke-linecap="round"/>
<line x1="1387.4" y1="1273" x2="1387.4" y2="1286" stroke="#000" stroke-width="4" stroke-linecap="round"/>
<line x1="1532.5" y1="1273" x2="1532.5" y2="1297" stroke="#000" stroke-width="4" stroke-linecap="round"/>
<line x1="1677.7" y1="1273" x2="1677.7" y2="1286" stroke="#000" stroke-width="4" stroke-linecap="round"/>
<line x1="1822.8" y1="1273" x2="1822.8" y2="1297" stroke="#000" stroke-width="4" stroke-linecap="round"/>
<line x1="1968.0" y1="1273" x2="1968.0" y2="1286" stroke="#000" stroke-width="4" stroke-linecap="round"/>
<line x1="2113.1" y1="1273" x2="2113.1" y2="1297" stroke="#000" stroke-width="4" stroke-linecap="round"/>
<line x1="63.5" y1="632.1" x2="174.5" y2="632.1" stroke="#000000" stroke-width="6.5" stroke-linecap="round"/>
<text transform="translate(188.1,649.2) scale(1,1.011)" font-size="49.98">ZnO</text>
<line x1="63.5" y1="693.5" x2="174.5" y2="693.5" stroke="#ff0000" stroke-width="6.5" stroke-linecap="round"/>
<text transform="translate(188.1,710.6) scale(1,0.992)" font-size="50.09">ZnO/rGO-0.5</text>
<line x1="63.5" y1="754.8" x2="174.5" y2="754.8" stroke="#0000ff" stroke-width="6.5" stroke-linecap="round"/>
<text transform="translate(188.0,771.8) scale(1,1.008)" font-size="49.15">ZnO/rGO-1</text>
<line x1="63.5" y1="816.2" x2="174.5" y2="816.2" stroke="#ff00ff" stroke-width="6.5" stroke-linecap="round"/>
<text transform="translate(188.1,833.6) scale(1,1.000)" font-size="50.29">ZnO/rGO-2</text>
<line x1="63.5" y1="877.5" x2="174.5" y2="877.5" stroke="#00ff00" stroke-width="6.5" stroke-linecap="round"/>
<text transform="translate(187.4,894.3) scale(1,1.025)" font-size="50.67">rGO</text>
<text transform="translate(273.5,85.9) scale(1,1.013)" font-size="54.90">3700</text>
<text transform="translate(434.9,85.9) scale(1,1.037)" font-size="53.64">3150</text>
<text transform="translate(1750.2,64.2) scale(1,0.977)" font-size="54.90">990</text>
<text transform="translate(1891.4,64.2) scale(1,1.010)" font-size="54.99">870</text>
<text transform="translate(19.8,1355.3) scale(1,1.048)" font-size="55.65">4000</text>
<text transform="translate(309.2,1355.3) scale(1,1.040)" font-size="56.02">3500</text>
<text transform="translate(599.5,1355.3) scale(1,1.040)" font-size="56.02">3000</text>
<text transform="translate(889.1,1355.1) scale(1,1.033)" font-size="56.33">2500</text>
<text transform="translate(1179.4,1355.1) scale(1,1.033)" font-size="56.33">2000</text>
<text transform="translate(1468.1,1355.1) scale(1,1.020)" font-size="57.03">1500</text>
<text transform="translate(1758.4,1355.1) scale(1,1.020)" font-size="57.03">1000</text>
<text transform="translate(2067.1,1355.3) scale(1,1.056)" font-size="55.22">500</text>
<text transform="translate(399.9,82.5) scale(1,1.030)" font-size="46.32">&#8722;</text>
<text transform="translate(1853.5,61.6) scale(1,1.000)" font-size="47.35">&#8722;</text>
<text transform="translate(861.0,1442.2) scale(1,0.998)" font-size="61.53">Wavenumber (cm</text>
<text transform="translate(1347.5,1413.2) scale(1,0.667)" font-size="45.91">&#8722;</text>
<text transform="translate(1370.1,1412.0) scale(1,1.024)" font-size="37.00">1</text>
<text transform="translate(1395.6,1442.2) scale(1,1.135)" font-size="54.11">)</text>
<text transform="translate(804.5,827.8) rotate(-90) scale(1,1.051)" font-size="55.30">2920-2840</text>
<text transform="translate(1029.4,562.4) rotate(-90) scale(1,1.035)" font-size="55.86">2340</text>
<text transform="translate(1452.4,442.2) rotate(-90) scale(1,1.053)" font-size="53.66">1630</text>
<text transform="translate(1671.3,434.0) rotate(-90) scale(1,1.045)" font-size="54.01">1412</text>
<text transform="translate(1382.2,781.0) rotate(-90) scale(1,1.063)" font-size="54.05">1725</text>
<text transform="translate(1629.9,725.5) rotate(-90) scale(1,1.077)" font-size="54.30">1422</text>
<text transform="translate(1818.6,674.1) rotate(-90) scale(1,1.013)" font-size="55.95">1100</text>
<text transform="translate(1478.5,932.7) rotate(-90) scale(1,1.037)" font-size="54.30">1557</text>
<text transform="translate(1592.1,945.7) rotate(-90) scale(1,1.044)" font-size="54.30">1487</text>
<text transform="translate(1755.9,940.2) rotate(-90) scale(1,1.063)" font-size="53.99">1210</text>
<text transform="translate(2162.2,1256.5) rotate(-90) scale(1,1.008)" font-size="54.77">440</text>
<line x1="803.8" y1="958.6" x2="857.8" y2="975.6" stroke="#000" stroke-width="2.6" stroke-linecap="round"/>
<line x1="857.8" y1="975.6" x2="862.8" y2="1018.6" stroke="#000" stroke-width="2.6" stroke-linecap="round"/>
<line x1="862.8" y1="1018.6" x2="813.8" y2="1041.0" stroke="#000" stroke-width="2.6" stroke-linecap="round"/>
<line x1="813.8" y1="1041.0" x2="759.8" y2="1024.0" stroke="#000" stroke-width="2.6" stroke-linecap="round"/>
<line x1="759.8" y1="1024.0" x2="754.8" y2="981.0" stroke="#000" stroke-width="2.6" stroke-linecap="round"/>
<line x1="754.8" y1="981.0" x2="803.8" y2="958.6" stroke="#000" stroke-width="2.6" stroke-linecap="round"/>
<line x1="906.4" y1="952.7" x2="960.4" y2="969.7" stroke="#000" stroke-width="2.6" stroke-linecap="round"/>
<line x1="960.4" y1="969.7" x2="965.4" y2="1012.7" stroke="#000" stroke-width="2.6" stroke-linecap="round"/>
<line x1="965.4" y1="1012.7" x2="916.4" y2="1035.1" stroke="#000" stroke-width="2.6" stroke-linecap="round"/>
<line x1="916.4" y1="1035.1" x2="862.4" y2="1018.1" stroke="#000" stroke-width="2.6" stroke-linecap="round"/>
<line x1="862.4" y1="1018.1" x2="857.4" y2="975.1" stroke="#000" stroke-width="2.6" stroke-linecap="round"/>
<line x1="857.4" y1="975.1" x2="906.4" y2="952.7" stroke="#000" stroke-width="2.6" stroke-linecap="round"/>
<line x1="1009.0" y1="946.8" x2="1063.0" y2="963.8" stroke="#000" stroke-width="2.6" stroke-linecap="round"/>
<line x1="1063.0" y1="963.8" x2="1068.0" y2="1006.8" stroke="#000" stroke-width="2.6" stroke-linecap="round"/>
<line x1="1068.0" y1="1006.8" x2="1019.0" y2="1029.2" stroke="#000" stroke-width="2.6" stroke-linecap="round"/>
<line x1="1019.0" y1="1029.2" x2="965.0" y2="1012.2" stroke="#000" stroke-width="2.6" stroke-linecap="round"/>
<line x1="965.0" y1="1012.2" x2="960.0" y2="969.2" stroke="#000" stroke-width="2.6" stroke-linecap="round"/>
<line x1="960.0" y1="969.2" x2="1009.0" y2="946.8" stroke="#000" stroke-width="2.6" stroke-linecap="round"/>
<line x1="1111.6" y1="940.9" x2="1165.6" y2="957.9" stroke="#000" stroke-width="2.6" stroke-linecap="round"/>
<line x1="1165.6" y1="957.9" x2="1170.6" y2="1000.9" stroke="#000" stroke-width="2.6" stroke-linecap="round"/>
<line x1="1170.6" y1="1000.9" x2="1121.6" y2="1023.3" stroke="#000" stroke-width="2.6" stroke-linecap="round"/>
<line x1="1121.6" y1="1023.3" x2="1067.6" y2="1006.3" stroke="#000" stroke-width="2.6" stroke-linecap="round"/>
<line x1="1067.6" y1="1006.3" x2="1062.6" y2="963.3" stroke="#000" stroke-width="2.6" stroke-linecap="round"/>
<line x1="1062.6" y1="963.3" x2="1111.6" y2="940.9" stroke="#000" stroke-width="2.6" stroke-linecap="round"/>
<line x1="1214.2" y1="935.0" x2="1268.2" y2="952.0" stroke="#000" stroke-width="2.6" stroke-linecap="round"/>
<line x1="1268.2" y1="952.0" x2="1273.2" y2="995.0" stroke="#000" stroke-width="2.6" stroke-linecap="round"/>
<line x1="1273.2" y1="995.0" x2="1224.2" y2="1017.4" stroke="#000" stroke-width="2.6" stroke-linecap="round"/>
<line x1="1224.2" y1="1017.4" x2="1170.2" y2="1000.4" stroke="#000" stroke-width="2.6" stroke-linecap="round"/>
<line x1="1170.2" y1="1000.4" x2="1165.2" y2="957.4" stroke="#000" stroke-width="2.6" stroke-linecap="round"/>
<line x1="1165.2" y1="957.4" x2="1214.2" y2="935.0" stroke="#000" stroke-width="2.6" stroke-linecap="round"/>
<line x1="759.6" y1="1024.3" x2="813.6" y2="1041.3" stroke="#000" stroke-width="2.6" stroke-linecap="round"/>
<line x1="813.6" y1="1041.3" x2="818.6" y2="1084.3" stroke="#000" stroke-width="2.6" stroke-linecap="round"/>
<line x1="818.6" y1="1084.3" x2="769.6" y2="1106.7" stroke="#000" stroke-width="2.6" stroke-linecap="round"/>
<line x1="769.6" y1="1106.7" x2="715.6" y2="1089.7" stroke="#000" stroke-width="2.6" stroke-linecap="round"/>
<line x1="715.6" y1="1089.7" x2="710.6" y2="1046.7" stroke="#000" stroke-width="2.6" stroke-linecap="round"/>
<line x1="710.6" y1="1046.7" x2="759.6" y2="1024.3" stroke="#000" stroke-width="2.6" stroke-linecap="round"/>
<line x1="862.2" y1="1018.4" x2="916.2" y2="1035.4" stroke="#000" stroke-width="2.6" stroke-linecap="round"/>
<line x1="916.2" y1="1035.4" x2="921.2" y2="1078.4" stroke="#000" stroke-width="2.6" stroke-linecap="round"/>
<line x1="921.2" y1="1078.4" x2="872.2" y2="1100.8" stroke="#000" stroke-width="2.6" stroke-linecap="round"/>
<line x1="872.2" y1="1100.8" x2="818.2" y2="1083.8" stroke="#000" stroke-width="2.6" stroke-linecap="round"/>
<line x1="818.2" y1="1083.8" x2="813.2" y2="1040.8" stroke="#000" stroke-width="2.6" stroke-linecap="round"/>
<line x1="813.2" y1="1040.8" x2="862.2" y2="1018.4" stroke="#000" stroke-width="2.6" stroke-linecap="round"/>
<line x1="964.8" y1="1012.5" x2="1018.8" y2="1029.5" stroke="#000" stroke-width="2.6" stroke-linecap="round"/>
<line x1="1018.8" y1="1029.5" x2="1023.8" y2="1072.5" stroke="#000" stroke-width="2.6" stroke-linecap="round"/>
<line x1="1023.8" y1="1072.5" x2="974.8" y2="1094.9" stroke="#000" stroke-width="2.6" stroke-linecap="round"/>
<line x1="974.8" y1="1094.9" x2="920.8" y2="1077.9" stroke="#000" stroke-width="2.6" stroke-linecap="round"/>
<line x1="920.8" y1="1077.9" x2="915.8" y2="1034.9" stroke="#000" stroke-width="2.6" stroke-linecap="round"/>
<line x1="915.8" y1="1034.9" x2="964.8" y2="1012.5" stroke="#000" stroke-width="2.6" stroke-linecap="round"/>
<line x1="1067.4" y1="1006.6" x2="1121.4" y2="1023.6" stroke="#000" stroke-width="2.6" stroke-linecap="round"/>
<line x1="1121.4" y1="1023.6" x2="1126.4" y2="1066.6" stroke="#000" stroke-width="2.6" stroke-linecap="round"/>
<line x1="1126.4" y1="1066.6" x2="1077.4" y2="1089.0" stroke="#000" stroke-width="2.6" stroke-linecap="round"/>
<line x1="1077.4" y1="1089.0" x2="1023.4" y2="1072.0" stroke="#000" stroke-width="2.6" stroke-linecap="round"/>
<line x1="1023.4" y1="1072.0" x2="1018.4" y2="1029.0" stroke="#000" stroke-width="2.6" stroke-linecap="round"/>
<line x1="1018.4" y1="1029.0" x2="1067.4" y2="1006.6" stroke="#000" stroke-width="2.6" stroke-linecap="round"/>
<line x1="1170.0" y1="1000.7" x2="1224.0" y2="1017.7" stroke="#000" stroke-width="2.6" stroke-linecap="round"/>
<line x1="1224.0" y1="1017.7" x2="1229.0" y2="1060.7" stroke="#000" stroke-width="2.6" stroke-linecap="round"/>
<line x1="1229.0" y1="1060.7" x2="1180.0" y2="1083.1" stroke="#000" stroke-width="2.6" stroke-linecap="round"/>
<line x1="1180.0" y1="1083.1" x2="1126.0" y2="1066.1" stroke="#000" stroke-width="2.6" stroke-linecap="round"/>
<line x1="1126.0" y1="1066.1" x2="1121.0" y2="1023.1" stroke="#000" stroke-width="2.6" stroke-linecap="round"/>
<line x1="1121.0" y1="1023.1" x2="1170.0" y2="1000.7" stroke="#000" stroke-width="2.6" stroke-linecap="round"/>
<line x1="715.4" y1="1090.0" x2="769.4" y2="1107.0" stroke="#000" stroke-width="2.6" stroke-linecap="round"/>
<line x1="769.4" y1="1107.0" x2="774.4" y2="1150.0" stroke="#000" stroke-width="2.6" stroke-linecap="round"/>
<line x1="774.4" y1="1150.0" x2="725.4" y2="1172.4" stroke="#000" stroke-width="2.6" stroke-linecap="round"/>
<line x1="725.4" y1="1172.4" x2="671.4" y2="1155.4" stroke="#000" stroke-width="2.6" stroke-linecap="round"/>
<line x1="671.4" y1="1155.4" x2="666.4" y2="1112.4" stroke="#000" stroke-width="2.6" stroke-linecap="round"/>
<line x1="666.4" y1="1112.4" x2="715.4" y2="1090.0" stroke="#000" stroke-width="2.6" stroke-linecap="round"/>
<line x1="818.0" y1="1084.1" x2="872.0" y2="1101.1" stroke="#000" stroke-width="2.6" stroke-linecap="round"/>
<line x1="872.0" y1="1101.1" x2="877.0" y2="1144.1" stroke="#000" stroke-width="2.6" stroke-linecap="round"/>
<line x1="877.0" y1="1144.1" x2="828.0" y2="1166.5" stroke="#000" stroke-width="2.6" stroke-linecap="round"/>
<line x1="828.0" y1="1166.5" x2="774.0" y2="1149.5" stroke="#000" stroke-width="2.6" stroke-linecap="round"/>
<line x1="774.0" y1="1149.5" x2="769.0" y2="1106.5" stroke="#000" stroke-width="2.6" stroke-linecap="round"/>
<line x1="769.0" y1="1106.5" x2="818.0" y2="1084.1" stroke="#000" stroke-width="2.6" stroke-linecap="round"/>
<line x1="920.6" y1="1078.2" x2="974.6" y2="1095.2" stroke="#000" stroke-width="2.6" stroke-linecap="round"/>
<line x1="974.6" y1="1095.2" x2="979.6" y2="1138.2" stroke="#000" stroke-width="2.6" stroke-linecap="round"/>
<line x1="979.6" y1="1138.2" x2="930.6" y2="1160.6" stroke="#000" stroke-width="2.6" stroke-linecap="round"/>
<line x1="930.6" y1="1160.6" x2="876.6" y2="1143.6" stroke="#000" stroke-width="2.6" stroke-linecap="round"/>
<line x1="876.6" y1="1143.6" x2="871.6" y2="1100.6" stroke="#000" stroke-width="2.6" stroke-linecap="round"/>
<line x1="871.6" y1="1100.6" x2="920.6" y2="1078.2" stroke="#000" stroke-width="2.6" stroke-linecap="round"/>
<line x1="1023.2" y1="1072.3" x2="1077.2" y2="1089.3" stroke="#000" stroke-width="2.6" stroke-linecap="round"/>
<line x1="1077.2" y1="1089.3" x2="1082.2" y2="1132.3" stroke="#000" stroke-width="2.6" stroke-linecap="round"/>
<line x1="1082.2" y1="1132.3" x2="1033.2" y2="1154.7" stroke="#000" stroke-width="2.6" stroke-linecap="round"/>
<line x1="1033.2" y1="1154.7" x2="979.2" y2="1137.7" stroke="#000" stroke-width="2.6" stroke-linecap="round"/>
<line x1="979.2" y1="1137.7" x2="974.2" y2="1094.7" stroke="#000" stroke-width="2.6" stroke-linecap="round"/>
<line x1="974.2" y1="1094.7" x2="1023.2" y2="1072.3" stroke="#000" stroke-width="2.6" stroke-linecap="round"/>
<line x1="1125.8" y1="1066.4" x2="1179.8" y2="1083.4" stroke="#000" stroke-width="2.6" stroke-linecap="round"/>
<line x1="1179.8" y1="1083.4" x2="1184.8" y2="1126.4" stroke="#000" stroke-width="2.6" stroke-linecap="round"/>
<line x1="1184.8" y1="1126.4" x2="1135.8" y2="1148.8" stroke="#000" stroke-width="2.6" stroke-linecap="round"/>
<line x1="1135.8" y1="1148.8" x2="1081.8" y2="1131.8" stroke="#000" stroke-width="2.6" stroke-linecap="round"/>
<line x1="1081.8" y1="1131.8" x2="1076.8" y2="1088.8" stroke="#000" stroke-width="2.6" stroke-linecap="round"/>
<line x1="1076.8" y1="1088.8" x2="1125.8" y2="1066.4" stroke="#000" stroke-width="2.6" stroke-linecap="round"/>
<line x1="764.8" y1="984.7" x2="800.1" y2="968.6" stroke="#000" stroke-width="2.6" stroke-linecap="round"/>
<line x1="867.4" y1="978.8" x2="902.7" y2="962.7" stroke="#000" stroke-width="2.6" stroke-linecap="round"/>
<line x1="970.0" y1="972.9" x2="1005.3" y2="956.8" stroke="#000" stroke-width="2.6" stroke-linecap="round"/>
<line x1="1072.6" y1="967.0" x2="1107.9" y2="950.9" stroke="#000" stroke-width="2.6" stroke-linecap="round"/>
<line x1="720.6" y1="1050.4" x2="755.9" y2="1034.3" stroke="#000" stroke-width="2.6" stroke-linecap="round"/>
<line x1="676.4" y1="1116.1" x2="711.7" y2="1100.0" stroke="#000" stroke-width="2.6" stroke-linecap="round"/>
<line x1="1219.5" y1="944.5" x2="1258.4" y2="956.8" stroke="#000" stroke-width="2.6" stroke-linecap="round"/>
<line x1="927.5" y1="1071.0" x2="923.9" y2="1040.1" stroke="#000" stroke-width="2.6" stroke-linecap="round"/>
<line x1="1012.1" y1="1036.4" x2="1015.7" y2="1067.3" stroke="#000" stroke-width="2.6" stroke-linecap="round"/>
<line x1="822.7" y1="1157.0" x2="783.8" y2="1144.7" stroke="#000" stroke-width="2.6" stroke-linecap="round"/>
<line x1="925.3" y1="1151.1" x2="886.4" y2="1138.8" stroke="#000" stroke-width="2.6" stroke-linecap="round"/>
<line x1="1027.9" y1="1145.2" x2="989.0" y2="1132.9" stroke="#000" stroke-width="2.6" stroke-linecap="round"/>
<line x1="1130.5" y1="1139.3" x2="1091.6" y2="1127.0" stroke="#000" stroke-width="2.6" stroke-linecap="round"/>
<line x1="906.4" y1="952.7" x2="887.5" y2="932.8" stroke="#0000ff" stroke-width="2.6" stroke-linecap="butt"/>
<text x="822.3" y="931.5" font-size="43" fill="#0000ff">HO</text>
<line x1="1111.6" y1="940.9" x2="1093.0" y2="922.5" stroke="#0000ff" stroke-width="2.6" stroke-linecap="butt"/>
<text x="1028.5" y="921.8" font-size="43" fill="#0000ff">HO</text>
<line x1="1270.8" y1="997.3" x2="1305.3" y2="1012.1" stroke="#ff0000" stroke-width="2.6" stroke-linecap="butt"/>
<line x1="1273.6" y1="990.7" x2="1308.1" y2="1005.5" stroke="#ff0000" stroke-width="2.6" stroke-linecap="butt"/>
<text x="1307.4" y="1024.8" font-size="43" fill="#ff0000">O</text>
<line x1="670.3" y1="1152.0" x2="639.1" y2="1162.5" stroke="#ff0000" stroke-width="2.6" stroke-linecap="butt"/>
<line x1="672.5" y1="1158.8" x2="641.3" y2="1169.3" stroke="#ff0000" stroke-width="2.6" stroke-linecap="butt"/>
<text x="601.6" y="1191.0" font-size="43" fill="#ff0000">O</text>
<line x1="813.2" y1="1040.8" x2="848.4" y2="1052.8" stroke="#00cc00" stroke-width="2.6" stroke-linecap="butt"/>
<line x1="818.2" y1="1083.8" x2="849.2" y2="1067.8" stroke="#00cc00" stroke-width="2.6" stroke-linecap="butt"/>
<text x="850.0" y="1072.8" font-size="43" fill="#00cc00">O</text>
<line x1="1121.0" y1="1023.1" x2="1156.0" y2="1035.8" stroke="#00cc00" stroke-width="2.6" stroke-linecap="butt"/>
<line x1="1126.0" y1="1066.1" x2="1156.0" y2="1050.0" stroke="#00cc00" stroke-width="2.6" stroke-linecap="butt"/>
<text x="1157.4" y="1055.1" font-size="43" fill="#00cc00">O</text>
<line x1="828.0" y1="1166.5" x2="817.8" y2="1186.1" stroke="#000" stroke-width="2.6" stroke-linecap="butt"/>
<text x="790.5" y="1216.2" font-size="43" fill="#000">C</text>
<line x1="764.0" y1="1219.8" x2="787.5" y2="1211.8" stroke="#000" stroke-width="2.6" stroke-linecap="butt"/>
<text x="698.2" y="1239.6" font-size="43" fill="#000">HO</text>
<line x1="823.7" y1="1213.9" x2="838.8" y2="1226.1" stroke="#000" stroke-width="2.6" stroke-linecap="butt"/>
<line x1="818.6" y1="1218.1" x2="833.3" y2="1231.5" stroke="#000" stroke-width="2.6" stroke-linecap="butt"/>
<text x="834.7" y="1255.5" font-size="43" fill="#000">O</text>
<line x1="1033.2" y1="1154.7" x2="1019.9" y2="1173.2" stroke="#000" stroke-width="2.6" stroke-linecap="butt"/>
<text x="991.7" y="1203.7" font-size="43" fill="#000">C</text>
<line x1="965.2" y1="1206.8" x2="990.0" y2="1198.8" stroke="#000" stroke-width="2.6" stroke-linecap="butt"/>
<text x="899.9" y="1226.6" font-size="43" fill="#000">HO</text>
<line x1="1024.5" y1="1201.4" x2="1039.6" y2="1214.0" stroke="#000" stroke-width="2.6" stroke-linecap="butt"/>
<line x1="1021.1" y1="1205.2" x2="1035.0" y2="1219.0" stroke="#000" stroke-width="2.6" stroke-linecap="butt"/>
<text x="1036.2" y="1243.0" font-size="43" fill="#000">O</text>
</svg></body></html>
